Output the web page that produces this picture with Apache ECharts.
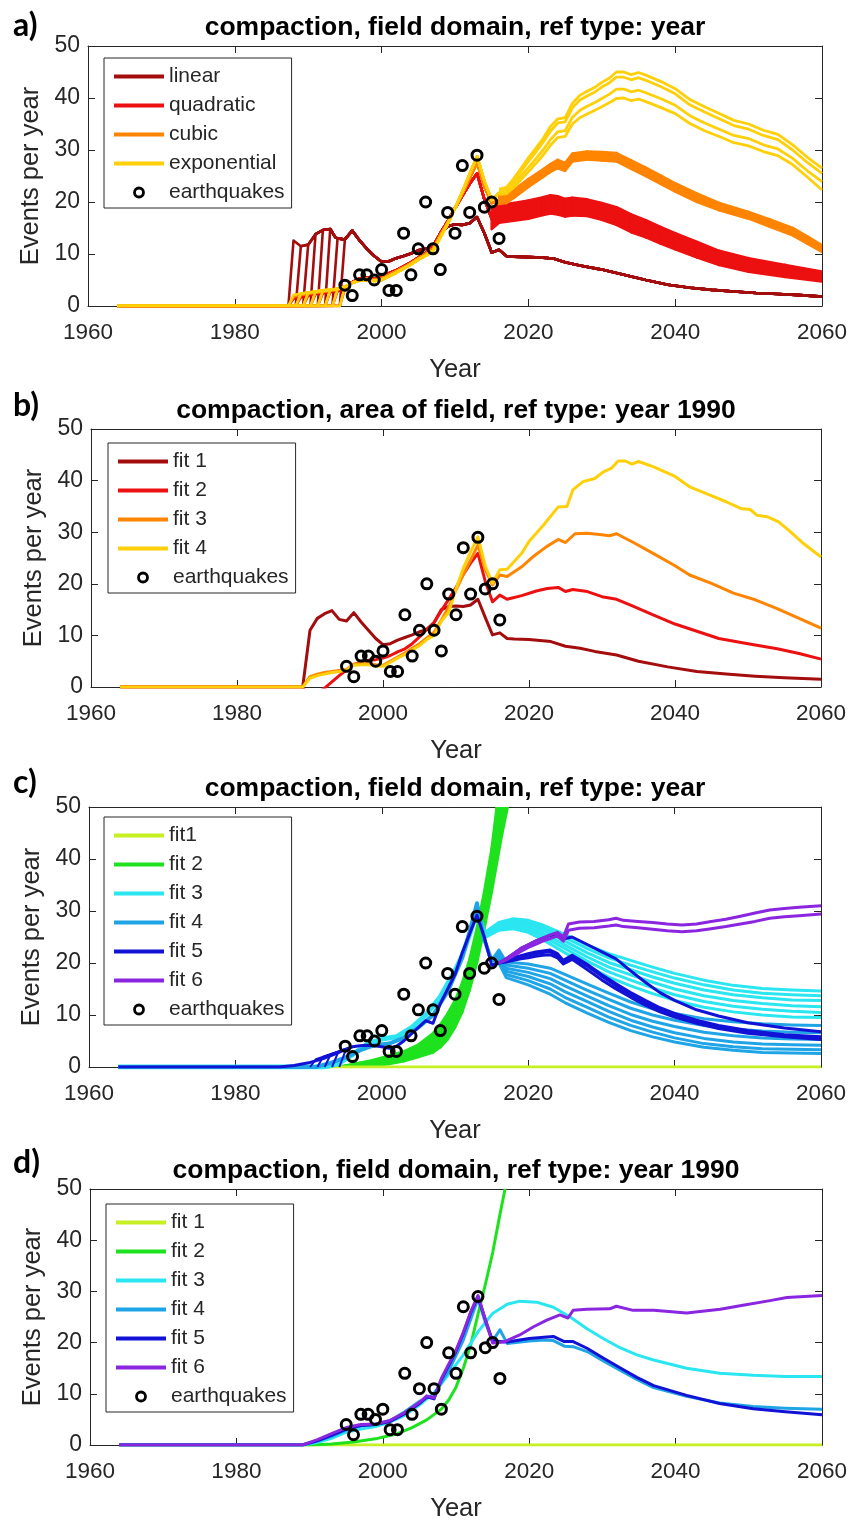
<!DOCTYPE html>
<html>
<head>
<meta charset="utf-8">
<script src="https://cdn.jsdelivr.net/npm/echarts@6.0.0/dist/echarts.min.js"></script>
<style>
  html, body { margin: 0; padding: 0; background: #fff; }
  #chart { width: 852px; height: 1523px; }
</style>
</head>
<body>
<div id="chart"></div>
<script>
// ---------------- axis ranges and labels ----------------
const X_MIN = 1960, X_MAX = 2060, X_STEP = 20;
const Y_MIN = 0, Y_MAX = 50, Y_STEP = 10;
const PANEL_TAGS = ['a)', 'b)', 'c)', 'd)'];
const PANEL_TITLES = [
  'compaction, field domain, ref type: year',
  'compaction, area of field, ref type: year 1990',
  'compaction, field domain, ref type: year',
  'compaction, field domain, ref type: year 1990'
];
const X_NAME = 'Year';
const Y_NAME = 'Events per year';

// ---------------- observed earthquakes (all panels) ----------------
const EQ_YEARS  = [1995, 1996, 1997, 1998, 1999, 2000, 2001, 2002, 2003, 2004, 2005,
                   2006, 2007, 2008, 2009, 2010, 2011, 2012, 2013, 2014, 2015, 2016];
const EQ_COUNTS = [4, 2, 6, 6, 5, 7, 3, 3, 14, 6, 11, 20, 11, 7, 18, 14, 27, 18, 29, 19, 20, 13];

// ---------------- panel a: field domain, ref type year ----------------
// model runs switched on in successive years
const A_ONSETS = [1987, 1988, 1989, 1990, 1991, 1992, 1993, 1994];
const A_LINEAR = [[1988,12.6],[1989,11.5],[1990,11.8],[1991,13.8],[1992,14.6],[1993,14.8],[1993.7,13.2],
  [1994,13.0],[1995,12.8],[1996,14.5],[1997,12.6],[1998,11.0],[1999,9.6],[2000,8.5],[2001,8.6],[2002,9.2],
  [2003,9.6],[2004,10.1],[2005,10.7],[2006,11.0],[2007,11.4],[2008,14.0],[2009,15.3],[2010,15.7],[2011,15.6],
  [2012,15.9],[2013,17.1],[2014,14.0],[2015,10.3],[2016,10.8],[2017,9.6],[2018,9.5],[2020,9.4],[2022,9.3],
  [2023.5,9.1],[2025,8.4],[2027,7.8],[2030,7.0],[2033,6.0],[2036,5.0],[2039,4.1],[2042,3.5],[2045,3.1],
  [2048,2.8],[2051,2.5],[2054,2.3],[2057,2.1],[2060,1.8]];
const A_QUAD_EARLY = [[1988,1.4],[1989,1.7],[1990,2.0],[1991,2.3],[1992,2.5],[1993,2.7],[1994,2.9],[1995,3.4],
  [1996,4.6],[1997,5.3],[1998,5.5],[1999,5.2],[2000,5.6],[2001,6.3],[2002,6.9],[2003,7.6],[2004,8.4],[2005,9.3],
  [2006,10.2],[2007,11.3],[2008,14.0],[2009,16.3],[2010,18.8],[2011,21.2],[2012,23.5],[2013,25.5],[2014,20.5],
  [2015,16.8],[2016,17.5]];
const A_CUBIC_EARLY = [[1988,1.8],[1989,2.1],[1990,2.4],[1991,2.6],[1992,2.8],[1993,3.0],[1994,3.2],[1995,3.6],
  [1996,4.5],[1997,5.1],[1998,5.2],[1999,5.0],[2000,5.3],[2001,6.0],[2002,6.7],[2003,7.4],[2004,8.2],[2005,9.1],
  [2006,10.0],[2007,11.0],[2008,13.6],[2009,16.0],[2010,18.8],[2011,21.6],[2012,24.6],[2013,27.6],[2014,23.0],
  [2015,19.8],[2016,20.3]];
const A_EXP_EARLY = [[1988,2.1],[1989,2.4],[1990,2.6],[1991,2.8],[1992,3.0],[1993,3.1],[1994,3.3],[1995,3.7],
  [1996,4.4],[1997,4.9],[1998,5.0],[1999,4.8],[2000,5.0],[2001,5.7],[2002,6.4],[2003,7.2],[2004,8.0],[2005,8.9],
  [2006,9.7],[2007,10.6],[2008,13.2],[2009,15.8],[2010,18.8],[2011,22.0],[2012,25.4],[2013,28.8],[2014,24.0],
  [2015,20.4],[2016,21.8]];
// forecast spread of the quadratic runs (lower / upper edge)
const A_QUAD_YEARS = [2015, 2016, 2017, 2018, 2020, 2022, 2023, 2024, 2025, 2026, 2028, 2030, 2032, 2034,
  2036, 2038, 2040, 2043, 2046, 2050, 2055, 2060];
const A_QUAD_LO = [14.8, 16.0, 16.2, 16.4, 16.8, 17.5, 17.8, 17.6, 17.2, 17.4, 17.3, 16.6, 15.6, 14.2,
  13.2, 12.0, 10.9, 9.3, 7.9, 6.6, 5.6, 4.7];
const A_QUAD_HI = [18.6, 19.6, 19.6, 19.8, 20.3, 20.9, 21.3, 21.1, 20.6, 20.8, 20.5, 19.8, 19.0, 17.6,
  16.5, 15.2, 14.0, 12.3, 10.6, 9.2, 7.9, 6.6];
// forecast spread of the cubic runs
const A_CUBIC_YEARS = [2016, 2017, 2018, 2020, 2022, 2023, 2024, 2025, 2026, 2028, 2030, 2032, 2034, 2036,
  2038, 2040, 2043, 2046, 2050, 2053, 2056, 2058, 2060];
const A_CUBIC_LO = [19.6, 19.8, 20.8, 22.9, 24.8, 25.8, 26.5, 26.0, 27.8, 28.2, 28.0, 27.8, 26.4, 25.0,
  23.5, 22.0, 20.0, 18.4, 16.8, 15.2, 13.6, 12.0, 10.4];
const A_CUBIC_HI = [21.2, 21.2, 22.3, 24.4, 26.3, 27.3, 28.1, 27.5, 29.3, 29.7, 29.6, 29.4, 28.0, 26.6,
  25.1, 23.6, 21.6, 19.8, 18.1, 16.6, 15.0, 13.4, 11.7];
// exponential runs, forecast
const A_EXP_YEARS = [2016, 2017, 2018, 2019, 2020, 2021, 2022, 2023, 2024, 2025, 2026, 2027, 2028, 2029,
  2030, 2031, 2032, 2033, 2034, 2035, 2036, 2038, 2040, 2042, 2044, 2046, 2048, 2050, 2052, 2054, 2056, 2058, 2060];
const A_EXP_1 = [22.5, 22.8, 24.5, 26.5, 28.5, 30.3, 32.2, 34.5, 36.0, 36.2, 39.0, 40.5, 41.3, 42.0, 43.0,
  43.8, 45.0, 45.0, 44.5, 44.9, 44.4, 43.2, 41.8, 39.7, 38.3, 37.0, 35.7, 35.0, 33.8, 33.0, 31.0, 28.6, 26.5];
const A_EXP_2 = [22.2, 22.5, 24.0, 25.9, 27.8, 29.6, 31.5, 33.6, 35.2, 35.4, 38.1, 39.6, 40.4, 41.1, 42.1,
  42.9, 44.0, 44.0, 43.5, 43.9, 43.4, 42.2, 40.8, 38.7, 37.3, 36.0, 34.7, 34.0, 32.8, 32.0, 30.0, 27.6, 25.5];
const A_EXP_3 = [21.8, 22.0, 23.3, 25.0, 26.6, 28.3, 30.0, 32.0, 33.5, 33.7, 36.3, 37.6, 38.4, 39.1, 39.9,
  40.7, 41.7, 41.7, 41.2, 41.5, 41.0, 39.9, 38.6, 36.6, 35.2, 34.0, 32.8, 32.2, 31.0, 30.2, 28.4, 26.0, 23.9];
const A_EXP_4 = [21.4, 21.6, 22.8, 24.3, 25.8, 27.4, 29.0, 30.9, 32.4, 32.6, 35.0, 36.2, 36.9, 37.6, 38.3,
  39.1, 39.9, 40.0, 39.5, 39.8, 39.3, 38.2, 37.0, 35.1, 33.7, 32.6, 31.4, 30.8, 29.7, 28.9, 27.2, 24.8, 22.3];

// ---------------- panel b: area of field, ref year 1990 ----------------
const B_FIT1 = [[1964,0],[1989,0],[1990,11.0],[1991,13.3],[1992,14.2],[1993,14.8],[1994,13.1],[1995,12.8],
  [1996,14.4],[1997,12.6],[1998,11.0],[1999,9.4],[2000,8.2],[2001,8.4],[2002,9.1],[2003,9.6],[2004,10.1],
  [2005,10.7],[2006,11.1],[2007,12.5],[2008,15.0],[2009,15.6],[2010,15.7],[2011,15.6],[2012,15.9],[2013,17.0],
  [2014,13.5],[2015,10.1],[2016,10.5],[2017,9.4],[2018,9.3],[2020,9.2],[2023,8.8],[2025,7.9],[2027,7.5],
  [2029,6.9],[2032,6.2],[2035,5.0],[2039,3.9],[2043,3.0],[2047,2.5],[2051,2.1],[2055,1.8],[2060,1.5]];
const B_FIT2 = [[1964,0],[1989,0],[1990,-2.5],[1991,-1.3],[1992,-0.2],[1993,1.0],[1994,2.2],[1995,3.3],
  [1996,4.3],[1997,4.9],[1998,5.2],[1999,5.3],[2000,5.6],[2001,6.1],[2002,6.8],[2003,7.4],[2004,8.4],
  [2005,9.7],[2006,11.2],[2007,12.5],[2008,14.8],[2009,17.0],[2010,19.3],[2011,21.8],[2012,24.0],[2013,25.9],
  [2014,20.5],[2015,16.5],[2016,17.8],[2017,17.0],[2019,17.7],[2021,18.6],[2022.5,19.1],[2024,19.3],
  [2025,18.5],[2026,18.9],[2028,18.5],[2030,17.5],[2032,17.0],[2034,15.8],[2037,14.0],[2040,12.2],
  [2043,10.8],[2046,9.4],[2050,8.4],[2054,7.4],[2057,6.5],[2060,5.4]];
const B_FIT3 = [[1964,0],[1989,0],[1990,2.0],[1991,2.5],[1992,2.8],[1993,3.0],[1994,3.2],[1995,3.4],
  [1996,4.4],[1997,4.6],[1998,4.5],[1999,4.3],[2000,4.2],[2001,5.0],[2002,5.8],[2003,6.6],[2004,7.5],
  [2005,8.4],[2006,9.5],[2007,10.6],[2008,13.0],[2009,15.5],[2010,18.8],[2011,21.8],[2012,24.6],[2013,27.5],
  [2014,22.8],[2015,19.8],[2016,21.7],[2017,21.4],[2019,23.3],[2020.6,25.3],[2022.4,27.2],[2024,28.6],
  [2025,28.0],[2026.3,29.7],[2028,29.8],[2030,29.5],[2031,29.3],[2032,29.7],[2034.3,28.0],[2037,25.9],
  [2040,23.5],[2042,21.7],[2045,20.1],[2048,18.2],[2051,16.9],[2054,15.2],[2057,13.3],[2060,11.4]];
const B_FIT4 = [[1964,0],[1989,0],[1990,1.7],[1991,2.2],[1992,2.5],[1993,2.8],[1994,3.0],[1995,3.3],
  [1996,4.2],[1997,4.3],[1998,4.3],[1999,4.1],[2000,4.0],[2001,4.8],[2002,5.6],[2003,6.3],[2004,7.2],
  [2005,8.0],[2006,9.2],[2007,10.0],[2008,12.8],[2009,14.5],[2010,19.0],[2011,23.0],[2012,26.2],[2013,29.1],
  [2014,23.5],[2015,20.1],[2016,22.7],[2017,22.8],[2019,25.9],[2020,28.2],[2022,31.4],[2024,34.9],
  [2025.2,35.0],[2026,38.2],[2027.4,39.8],[2029,40.4],[2030.2,41.7],[2031.3,42.4],[2032.2,43.8],
  [2033.2,43.8],[2034.1,43.2],[2035,43.7],[2037,42.7],[2040,40.8],[2042,38.8],[2044.8,37.2],[2047,35.9],
  [2049,34.6],[2050.3,34.4],[2051.2,33.3],[2052.6,33.0],[2054.2,32.0],[2055.8,30.1],[2057.6,27.8],[2060,25.2]];

// ---------------- panel c: field domain, ref type year (six fits) ----------------
const C_FIT1 = [[1964,0],[2060,0]];
const C_FIT2_YEARS = [1993, 1995, 1997, 1999, 2001, 2003, 2005, 2007, 2008, 2009, 2010, 2011, 2012, 2013,
  2014, 2015, 2015.7, 2016.4, 2017.2];
const C_FIT2_LO = [0, 0, 0.1, 0.2, 0.6, 1.1, 1.9, 2.8, 3.8, 5.3, 7.6, 10.6, 14.8, 20.0, 26.5, 33.5, 39.0, 44.5, 50];
const C_FIT2_HI = [0, 0.3, 0.8, 1.4, 2.2, 3.0, 4.3, 6.5, 8.2, 10.3, 12.8, 16.3, 20.8, 26.8, 33.8, 42.0, 50, 50, 50];
const C_FIT3_HIST = [[1964,0],[1992,0],[1994,0.6],[1996,2.4],[1998,4.4],[2000,5.4],[2002,5.8],[2004,7.5],
  [2006,10.0],[2008,13.5],[2010,18.5],[2011,21.5],[2012,25.5],[2013,30.0],[2014,25.8]];
const C_FIT3_YEARS = [2014, 2016, 2018, 2020, 2022, 2025, 2028, 2031, 2034, 2037, 2040, 2044, 2048, 2052, 2056, 2060];
const C_FIT3_RUNS = [
  [25.8, 27.8, 28.5, 28.2, 27.3, 25.5, 23.5, 21.8, 20.5, 19.2, 18.0, 16.7, 15.7, 15.1, 14.8, 14.6],
  [25.6, 27.5, 28.2, 27.8, 26.8, 24.9, 22.8, 21.0, 19.6, 18.3, 17.1, 15.8, 14.8, 14.2, 13.9, 13.7],
  [25.4, 27.2, 27.8, 27.4, 26.3, 24.2, 22.0, 20.1, 18.7, 17.3, 16.1, 14.8, 13.9, 13.3, 12.9, 12.8],
  [25.2, 26.9, 27.4, 26.9, 25.7, 23.5, 21.2, 19.2, 17.7, 16.3, 15.0, 13.7, 12.8, 12.2, 11.8, 11.6],
  [25.0, 26.6, 27.0, 26.4, 25.1, 22.8, 20.4, 18.3, 16.7, 15.2, 13.9, 12.6, 11.7, 11.1, 10.7, 10.5],
  [24.8, 26.3, 26.6, 25.9, 24.5, 22.0, 19.5, 17.3, 15.6, 14.1, 12.8, 11.5, 10.6, 10.0, 9.6, 9.5]
];
const C_FIT4_HIST = [[1964,0],[1991,0],[1993,0.8],[1995,1.8],[1997,3.2],[1999,4.2],[2001,4.5],[2003,5.6],
  [2005,7.6],[2007,10.0],[2009,14.5],[2011,21.0],[2012,26.0],[2013,31.5],[2014,24.5],[2015,20.5]];
const C_FIT4_YEARS = [2015, 2016, 2017, 2020, 2023, 2025, 2028, 2031, 2034, 2037, 2040, 2044, 2048, 2052, 2056, 2060];
const C_FIT4_RUNS = [
  [20.5, 22.5, 20.2, 19.8, 19.0, 17.8, 16.0, 14.2, 12.5, 11.2, 10.3, 9.3, 8.7, 8.3, 8.1, 8.0],
  [20.5, 21.8, 19.6, 19.0, 18.0, 16.7, 14.8, 13.0, 11.3, 10.0, 9.0, 8.0, 7.3, 6.9, 6.7, 6.6],
  [20.5, 21.2, 19.0, 18.2, 17.0, 15.6, 13.7, 11.8, 10.1, 8.8, 7.8, 6.7, 6.0, 5.6, 5.4, 5.3],
  [20.5, 20.8, 18.4, 17.4, 16.0, 14.5, 12.6, 10.7, 9.0, 7.7, 6.6, 5.5, 4.8, 4.4, 4.3, 4.2],
  [20.5, 20.4, 17.8, 16.6, 15.0, 13.4, 11.5, 9.6, 8.0, 6.7, 5.6, 4.5, 3.9, 3.5, 3.4, 3.3],
  [20.5, 20.0, 17.2, 15.8, 14.0, 12.4, 10.4, 8.6, 7.0, 5.8, 4.8, 3.8, 3.2, 2.8, 2.7, 2.6]
];
const C_FIT5_HIST = [[1964,0],[1986,0],[1988,0.3],[1990,0.8],[1992,1.6],[1994,2.7],[1995,3.4],[1996,3.9],
  [1997,4.1],[1998,4.2],[1999,4.1],[2000,3.9],[2001,3.6],[2002,4.0],[2003,5.0],[2004,6.3],[2005,7.6],
  [2006,8.9],[2007,8.4],[2008,12.2],[2009,15.0],[2010,17.8],[2011,22.0],[2012,25.6],[2013,29.2],[2014,25.0],
  [2015,19.6],[2016,20.0]];
const C_FIT5_ONSETS = [1990, 1991, 1992, 1993, 1994];
const C_FIT5_ONSET_TOPS = [1.5, 2.0, 2.4, 2.7, 3.0];
const C_FIT5_YEARS = [2016, 2017, 2018, 2019, 2020, 2021, 2022, 2023, 2024, 2024.8, 2026, 2028, 2030, 2032,
  2034, 2036, 2038, 2040, 2043, 2046, 2050, 2055, 2060];
const C_FIT5_RUNS = [
  [20.0, 20.8, 21.8, 22.8, 23.5, 24.2, 24.8, 25.3, 25.7, 24.6, 25.0, 23.6, 22.2, 20.8, 18.5, 16.3, 14.3, 12.8, 11.0, 9.8, 8.5, 7.5, 6.8],
  [20.0, 20.5, 21.0, 21.4, 21.8, 22.1, 22.3, 22.5, 21.8, 20.5, 21.5, 19.8, 17.8, 16.0, 14.3, 12.8, 11.4, 10.3, 9.0, 8.0, 7.0, 6.2, 5.8],
  [20.0, 20.2, 20.5, 20.8, 21.0, 21.3, 21.5, 21.6, 21.0, 19.8, 20.7, 18.8, 16.8, 15.0, 13.4, 11.9, 10.6, 9.6, 8.4, 7.4, 6.5, 5.8, 5.3],
  [20.0, 20.4, 20.8, 21.2, 21.5, 21.8, 22.0, 22.2, 21.5, 20.2, 21.2, 19.5, 17.5, 15.6, 13.9, 12.3, 11.0, 10.0, 8.8, 7.7, 6.8, 6.0, 5.6]
];
const C_FIT6_YEARS = [2016, 2017, 2018, 2019, 2020, 2021, 2022, 2023, 2024, 2024.8, 2025.5, 2027, 2029, 2031,
  2032, 2033, 2035, 2037, 2039, 2041, 2043, 2045, 2047, 2049, 2051, 2053, 2055, 2057, 2060];
const C_FIT6_RUNS = [
  [20.0, 20.8, 21.8, 22.8, 23.5, 24.2, 24.8, 25.4, 25.9, 25.0, 27.5, 27.9, 28.0, 28.3, 28.6, 28.2, 28.0, 27.8,
   27.5, 27.3, 27.5, 28.0, 28.4, 29.0, 29.6, 30.2, 30.5, 30.7, 31.0],
  [20.0, 20.6, 21.4, 22.2, 23.0, 23.6, 24.2, 24.7, 25.2, 24.2, 26.3, 26.7, 26.8, 27.1, 27.3, 27.0, 26.8, 26.5,
   26.2, 26.0, 26.2, 26.6, 27.0, 27.5, 28.0, 28.6, 28.9, 29.1, 29.4]
];

// ---------------- panel d: field domain, ref year 1990 (six fits) ----------------
const D_FIT1 = [[1964,0],[2060,0]];
const D_FIT2 = [[1964,0],[1990,0],[1993,0.2],[1996,0.6],[1999,1.2],[2002,2.2],[2004,3.4],[2006,4.9],[2008,7.0],
  [2009,8.8],[2010,11.3],[2011,15.0],[2012,19.5],[2013,25.5],[2014,31.3],[2015,37.5],[2016,45.0],[2016.7,50]];
const D_FIT3 = [[1964,0],[1989,0],[1991,0.5],[1993,1.3],[1995,2.5],[1997,3.1],[1999,3.6],[2001,4.5],[2003,5.8],
  [2005,7.8],[2007,10.2],[2009,13.8],[2011,17.6],[2013,22.1],[2015,25.7],[2017,27.5],[2018.7,28.1],[2021,27.9],
  [2023.3,26.9],[2025.6,25.0],[2027.9,22.7],[2030.1,20.8],[2032.4,19.0],[2034.7,17.6],[2037,16.6],[2041.5,15.0],
  [2046,14.0],[2050.6,13.6],[2055,13.4],[2060,13.4]];
const D_FIT4 = [[1964,0],[1989,0],[1991,0.7],[1993,1.7],[1995,2.9],[1997,3.7],[1999,4.0],[2001,4.8],[2003,6.5],
  [2005,8.5],[2007,9.8],[2009,14.5],[2011,20.5],[2012,24.5],[2013,28.5],[2014,24.0],[2015,20.3],[2016,22.5],
  [2017,19.8],[2020,20.3],[2022,20.5],[2023.3,20.4],[2024.8,19.3],[2026,19.2],[2028,18.2],[2030,16.5],
  [2032.4,14.6],[2034.7,12.8],[2037,11.2],[2041.5,9.5],[2046,8.2],[2050.6,7.5],[2055,7.2],[2060,7.0]];
const D_FIT5 = [[1964,0],[1989,0],[1991,0.8],[1993,1.9],[1995,3.1],[1997,3.8],[1999,4.0],[2001,4.6],[2003,6.1],
  [2005,8.1],[2006,9.4],[2007,9.0],[2008,12.8],[2009,15.5],[2010,18.3],[2011,21.8],[2012,25.8],[2013,29.0],
  [2014,24.5],[2015,20.3],[2017,20.1],[2020,20.8],[2022.4,21.1],[2023.3,21.2],[2024.8,20.2],[2026,20.2],
  [2027.9,18.9],[2030.1,17.0],[2032.4,15.1],[2034.7,13.2],[2037,11.6],[2041.5,9.7],[2046,8.1],[2050.6,7.1],
  [2055,6.5],[2060,5.9]];
const D_FIT6 = [[1964,0],[1989,0],[1991,1.0],[1993,2.2],[1995,3.4],[1997,4.0],[1999,4.1],[2001,4.8],[2003,6.3],
  [2005,8.3],[2006,9.6],[2007,9.2],[2008,13.0],[2009,15.8],[2010,18.5],[2011,22.0],[2012,26.0],[2013,29.2],
  [2014,24.5],[2015,19.9],[2016.5,20.1],[2018.7,21.5],[2020.6,23.1],[2022.4,24.4],[2024.2,25.4],[2025.3,24.8],
  [2026,26.3],[2027.9,26.5],[2031,26.6],[2031.9,27.1],[2034.2,26.3],[2037,26.3],[2041.5,25.8],[2046.1,26.5],
  [2049.2,27.3],[2052.9,28.2],[2055.2,28.8],[2060,29.2]];

// ---------------- styling ----------------
const FONT = "'Liberation Sans', Arial, Helvetica, sans-serif";
const INK = '#262626';
const COL = {
  linear: '#a30d0d', quadratic: '#ec1010', cubic: '#ff8400', exponential: '#ffd00a',
  f1: '#c6f022', f2: '#1ee21e', f3: '#2ae6f0', f4: '#1fa4e6', f5: '#1212d6', f6: '#8b26e0'
};
const GRIDS = [
  { left: 88, top: 46,   width: 734, height: 260 },
  { left: 91, top: 429,  width: 730, height: 258 },
  { left: 89, top: 807,  width: 732, height: 260 },
  { left: 90, top: 1189, width: 732, height: 259 }
];
const LEGEND_POS = [[104, 58], [108, 443], [104, 817], [106, 1204]];
const TAG_TOPS = [10, 390, 767, 1147];
const LINE_W = 3;

// ---------------- helpers ----------------
const zip = (xs, ys) => xs.map((x, i) => [x, ys[i]]);

function line(gi, name, data, color, width) {
  return {
    type: 'line', name, data, xAxisIndex: 2 * gi, yAxisIndex: 2 * gi,
    symbol: 'none', silent: true, animation: false, clip: true,
    lineStyle: { color, width: width || LINE_W, join: 'round' },
    itemStyle: { color }
  };
}

// runs that are switched on one after another: zero until the onset, then following the curve
function staggered(gi, name, onsets, curve, color, width) {
  return onsets.map(s => line(gi, name,
    [[1964, 0], [s + 0.3, 0]].concat(curve.filter(p => p[0] >= s + 1)), color, width));
}

// spread of many runs, filled between its lower and upper edge
function band(gi, name, years, lo, hi, color) {
  const rows = years.map((y, i) => [y, lo[i], hi[i]]);
  return {
    type: 'custom', name, data: rows, xAxisIndex: 2 * gi, yAxisIndex: 2 * gi,
    silent: true, animation: false, clip: true,
    encode: { x: 0, y: [1, 2] },
    renderItem(params, api) {
      const i = params.dataIndex;
      if (i >= rows.length - 1) return null;
      const a = rows[i], b = rows[i + 1];
      const pts = [api.coord([a[0], a[1]]), api.coord([a[0], a[2]]),
                   api.coord([b[0], b[2]]), api.coord([b[0], b[1]])];
      return { type: 'polygon', shape: { points: pts },
               style: { fill: color, stroke: color, lineWidth: 2.6, lineJoin: 'round' } };
    }
  };
}

function quakes(gi, tag) {
  return {
    type: 'scatter', name: tag + '|earthquakes', data: zip(EQ_YEARS, EQ_COUNTS),
    xAxisIndex: 2 * gi, yAxisIndex: 2 * gi, silent: true, animation: false, z: 5,
    symbol: 'circle', symbolSize: 10,
    itemStyle: { color: 'rgba(0,0,0,0)', borderColor: '#000', borderWidth: 3, opacity: 1 }
  };
}

const LINE_ICON = 'path://M0,0 L50,0 L50,3.8 L0,3.8 Z';
function legend(gi, tag, entries) {
  const data = entries.map(([label, color]) => ({
    name: tag + '|' + label, icon: LINE_ICON, itemStyle: { color, borderWidth: 0 }
  }));
  data.push({ name: tag + '|earthquakes', icon: 'circle',
              itemStyle: { color: 'rgba(0,0,0,0)', borderColor: '#000', borderWidth: 2.8 } });
  return {
    data, orient: 'vertical', left: LEGEND_POS[gi][0], top: LEGEND_POS[gi][1],
    itemWidth: 50, itemHeight: 9, itemGap: 8, padding: [8, 7, 5, 10],
    backgroundColor: '#fff', borderColor: INK, borderWidth: 1, borderRadius: 0,
    selectedMode: false, symbolKeepAspect: true,
    textStyle: { fontFamily: FONT, fontSize: 21, color: INK, lineHeight: 21 },
    formatter: n => n.split('|')[1]
  };
}

// ---------------- axes ----------------
const axisLine = { show: true, onZero: false, lineStyle: { color: INK, width: 1 } };
const axisTick = { show: true, inside: true, length: 7, lineStyle: { color: INK, width: 1 } };
const xAxis = [], yAxis = [];
GRIDS.forEach((g, gi) => {
  xAxis.push({
    gridIndex: gi, type: 'value', position: 'bottom', min: X_MIN, max: X_MAX, interval: X_STEP,
    axisLine, axisTick, splitLine: { show: false },
    axisLabel: { fontFamily: FONT, fontSize: 22.5, color: INK, margin: 15, formatter: v => String(v) },
    name: X_NAME, nameLocation: 'middle', nameGap: 51,
    nameTextStyle: { fontFamily: FONT, fontSize: 25.5, color: INK }
  });
  xAxis.push({
    gridIndex: gi, type: 'value', position: 'top', min: X_MIN, max: X_MAX, interval: X_STEP,
    axisLine, axisTick, splitLine: { show: false }, axisLabel: { show: false },
    name: PANEL_TITLES[gi], nameLocation: 'middle', nameGap: 5,
    nameTextStyle: { fontFamily: FONT, fontSize: 26.5, fontWeight: 'bold', color: '#000' }
  });
  yAxis.push({
    gridIndex: gi, type: 'value', position: 'left', min: Y_MIN, max: Y_MAX, interval: Y_STEP,
    axisLine, axisTick, splitLine: { show: false },
    axisLabel: { fontFamily: FONT, fontSize: 23, color: INK, margin: 8 },
    name: Y_NAME, nameLocation: 'middle', nameGap: 41,
    nameTextStyle: { fontFamily: FONT, fontSize: 25.5, color: INK }
  });
  yAxis.push({
    gridIndex: gi, type: 'value', position: 'right', min: Y_MIN, max: Y_MAX, interval: Y_STEP,
    axisLine, axisTick, splitLine: { show: false }, axisLabel: { show: false }
  });
});

// ---------------- series ----------------
const series = [];
// a)
series.push(...staggered(0, 'a|linear', A_ONSETS, A_LINEAR, COL.linear, 2.6));
series.push(...staggered(0, 'a|quadratic', A_ONSETS, A_QUAD_EARLY, COL.quadratic, 2.6));
series.push(band(0, 'a|quadratic spread', A_QUAD_YEARS, A_QUAD_LO, A_QUAD_HI, COL.quadratic));
series.push(...staggered(0, 'a|cubic', A_ONSETS, A_CUBIC_EARLY, COL.cubic, 2.6));
series.push(band(0, 'a|cubic spread', A_CUBIC_YEARS, A_CUBIC_LO, A_CUBIC_HI, COL.cubic));
series.push(...staggered(0, 'a|exponential', A_ONSETS, A_EXP_EARLY, COL.exponential, 2.6));
[A_EXP_1, A_EXP_2, A_EXP_3, A_EXP_4].forEach(v =>
  series.push(line(0, 'a|exponential', zip(A_EXP_YEARS, v), COL.exponential, 2.8)));
series.push(quakes(0, 'a'));
// b)
series.push(line(1, 'b|fit 1', B_FIT1, COL.linear));
series.push(line(1, 'b|fit 2', B_FIT2, COL.quadratic));
series.push(line(1, 'b|fit 3', B_FIT3, COL.cubic));
series.push(line(1, 'b|fit 4', B_FIT4, COL.exponential));
series.push(quakes(1, 'b'));
// c)
series.push(line(2, 'c|fit1', C_FIT1, COL.f1));
series.push(line(2, 'c|fit 2', [[1964, 0], [1993, 0]], COL.f2));
series.push(band(2, 'c|fit 2 spread', C_FIT2_YEARS, C_FIT2_LO, C_FIT2_HI, COL.f2));
series.push(line(2, 'c|fit 3', C_FIT3_HIST, COL.f3, 5));
C_FIT3_RUNS.forEach(v => series.push(line(2, 'c|fit 3', zip(C_FIT3_YEARS, v), COL.f3)));
series.push(line(2, 'c|fit 4', C_FIT4_HIST, COL.f4, 4));
C_FIT4_RUNS.forEach(v => series.push(line(2, 'c|fit 4', zip(C_FIT4_YEARS, v), COL.f4)));
C_FIT5_ONSETS.forEach((s, i) => series.push(line(2, 'c|fit 5',
  [[s + 0.2, 0], [s + 1, C_FIT5_ONSET_TOPS[i]], [1995, 3.4]], COL.f5, 2)));
series.push(line(2, 'c|fit 5', C_FIT5_HIST, COL.f5));
C_FIT5_RUNS.forEach(v => series.push(line(2, 'c|fit 5', zip(C_FIT5_YEARS, v), COL.f5)));
C_FIT6_RUNS.forEach(v => series.push(line(2, 'c|fit 6', zip(C_FIT6_YEARS, v), COL.f6)));
series.push(quakes(2, 'c'));
// d)
series.push(line(3, 'd|fit 1', D_FIT1, COL.f1));
series.push(line(3, 'd|fit 2', D_FIT2, COL.f2));
series.push(line(3, 'd|fit 3', D_FIT3, COL.f3));
series.push(line(3, 'd|fit 4', D_FIT4, COL.f4));
series.push(line(3, 'd|fit 5', D_FIT5, COL.f5));
series.push(line(3, 'd|fit 6', D_FIT6, COL.f6));
series.push(quakes(3, 'd'));

const option = {
  backgroundColor: '#fff',
  animation: false,
  title: PANEL_TAGS.map((t, i) => ({
    text: t, left: 13, top: TAG_TOPS[i], padding: 0,
    textStyle: { fontFamily: 'Lato, "Open Sans", sans-serif', fontWeight: 'bold', fontSize: 32, color: '#000' }
  })),
  grid: GRIDS.map(g => Object.assign({ containLabel: false }, g)),
  xAxis, yAxis,
  legend: [
    legend(0, 'a', [['linear', COL.linear], ['quadratic', COL.quadratic], ['cubic', COL.cubic], ['exponential', COL.exponential]]),
    legend(1, 'b', [['fit 1', COL.linear], ['fit 2', COL.quadratic], ['fit 3', COL.cubic], ['fit 4', COL.exponential]]),
    legend(2, 'c', [['fit1', COL.f1], ['fit 2', COL.f2], ['fit 3', COL.f3], ['fit 4', COL.f4], ['fit 5', COL.f5], ['fit 6', COL.f6]]),
    legend(3, 'd', [['fit 1', COL.f1], ['fit 2', COL.f2], ['fit 3', COL.f3], ['fit 4', COL.f4], ['fit 5', COL.f5], ['fit 6', COL.f6]])
  ],
  series
};

const chart = echarts.init(document.getElementById('chart'), null, { renderer: 'canvas' });
chart.setOption(option);
</script>
</body>
</html>
